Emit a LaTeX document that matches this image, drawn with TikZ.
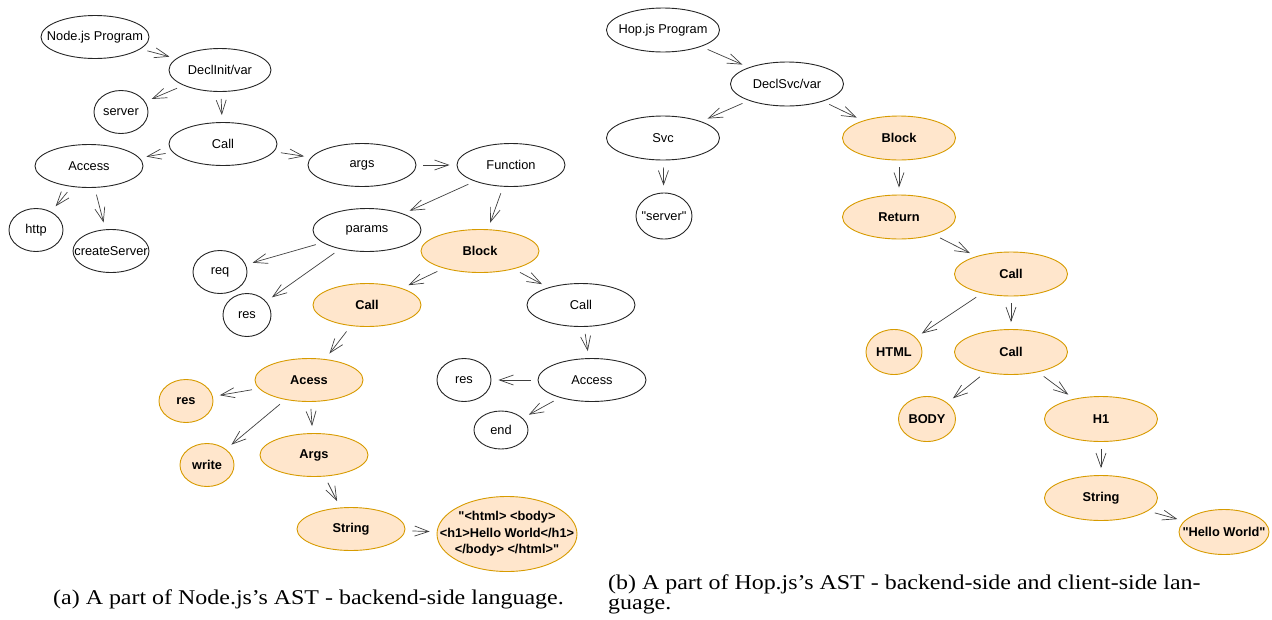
\documentclass[tikz,border=0pt]{standalone}
\usepackage{graphicx}
\usepackage{fontspec}
\setmainfont{Liberation Serif}
\newfontfamily\nodefont{Liberation Sans}
\usetikzlibrary{shapes.geometric, arrows.meta}
\definecolor{hlfill}{HTML}{FFE6CC}
\definecolor{hldraw}{HTML}{D79B00}

\begin{document}
\begin{tikzpicture}[
  x=1pt, y=-1pt,
  font=\nodefont\fontsize{12.8}{16.5}\selectfont,
  astnode/.style={
    ellipse, draw=black!85, line width=0.9pt, inner xsep=-20pt, inner ysep=0pt,
    minimum width=108pt, minimum height=43pt, align=center
  },
  small/.style={minimum width=54pt},
  hl/.style={
    astnode, draw=hldraw, fill=hlfill,
    font=\nodefont\bfseries\fontsize{12.8}{16.5}\selectfont
  },
  edge/.style={-{Straight Barb[length=14pt, width=10pt]}, line width=0.7pt,
    color=black!75, shorten <=7pt, shorten >=7pt},
  caption/.style={font=\fontsize{21}{24}\selectfont, inner sep=0pt, anchor=base west}
]
\useasboundingbox (0,0) rectangle (1272,619);

% Node.js tree
\node[astnode] (nprog) at (95,37) {Node.js Program};
\node[astnode, minimum width=102pt] (ndecl) at (220,70) {DeclInit/var};
\node[astnode, small] (nserver) at (121,112) {server};
\node[astnode] (ncall) at (223,144) {Call};
\node[astnode] (naccess) at (89,166) {Access};
\node[astnode, small] (nhttp) at (36,230) {http};
\node[astnode, minimum width=76pt] (ncreate) at (111,251) {createServer};
\node[astnode] (nargs) at (362,165) {args};
\node[astnode] (nfunc) at (511,165) {Function};
\node[astnode] (nparams) at (367,230) {params};
\node[hl, minimum width=118pt] (nblock) at (480,251) {Block};
\node[astnode, small] (nreq) at (220,272) {req};
\node[astnode, minimum width=48pt] (nres) at (247,315) {res};
\node[hl] (ncallb) at (367,305) {Call};
\node[astnode] (ncallw) at (581,305) {Call};
\node[hl] (nacess) at (309,380) {Acess};
\node[hl, small] (nresb) at (186,401) {res};
\node[astnode] (naccw) at (592,380) {Access};
\node[astnode, small] (nresw) at (464,380) {res};
\node[astnode, small, minimum height=38pt] (nend) at (501,430) {end};
\node[hl, small] (nwrite) at (207,465) {write};
\node[hl] (nargsb) at (314,455) {Args};
\node[hl] (nstring) at (351,529) {String};
\node[hl, minimum width=140pt, minimum height=75pt] (nhtml) at (507,534)
  {"<html> <body>\\<h1>Hello World</h1>\\</body> </html>"};

% Node.js edges
\draw[edge] (nprog) -- (ndecl);
\draw[edge] (ndecl) -- (nserver);
\draw[edge] (ndecl) -- (ncall);
\draw[edge] (ncall) -- (naccess);
\draw[edge] (ncall) -- (nargs);
\draw[edge] (naccess) -- (nhttp);
\draw[edge] (naccess) -- (ncreate);
\draw[edge] (nargs) -- (nfunc);
\draw[edge] (nfunc) -- (nparams);
\draw[edge] (nfunc) -- (nblock);
\draw[edge] (nparams) -- (nreq);
\draw[edge] (nparams) -- (nres);
\draw[edge] (nblock) -- (ncallb);
\draw[edge] (nblock) -- (ncallw);
\draw[edge] (ncallb) -- (nacess);
\draw[edge] (ncallw) -- (naccw);
\draw[edge] (nacess) -- (nresb);
\draw[edge] (nacess) -- (nwrite);
\draw[edge] (nacess) -- (nargsb);
\draw[edge] (naccw) -- (nresw);
\draw[edge] (naccw) -- (nend);
\draw[edge] (nargsb) -- (nstring);
\draw[edge] (nstring) -- (nhtml);

% Hop.js tree
\node[astnode, minimum width=113pt, minimum height=44pt] (hprog) at (663,30) {Hop.js Program};
\node[astnode, minimum width=113pt, minimum height=44pt] (hdecl) at (787,84) {DeclSvc/var};
\node[astnode, minimum width=113pt, minimum height=44pt] (hsvc) at (663,138) {Svc};
\node[astnode, minimum width=56pt, minimum height=46pt] (hserver) at (664,216) {"server"};
\node[hl, minimum width=113pt, minimum height=44pt] (hblock) at (899,138) {Block};
\node[hl, minimum width=113pt, minimum height=44pt] (hreturn) at (899,217) {Return};
\node[hl, minimum width=113pt, minimum height=44pt] (hcall) at (1011,274) {Call};
\node[hl, minimum width=56pt, minimum height=45pt] (hhtml) at (894,352) {HTML};
\node[hl, minimum width=113pt, minimum height=45pt] (hcallb) at (1011,352) {Call};
\node[hl, minimum width=57pt, minimum height=45pt] (hbody) at (927,419) {BODY};
\node[hl, minimum width=113pt, minimum height=45pt] (hhone) at (1101,419) {H1};
\node[hl, minimum width=113pt, minimum height=45pt] (hstring) at (1101,498) {String};
\node[hl, minimum width=90pt, minimum height=45pt] (hhello) at (1224,532) {"Hello World"};

% Hop.js edges
\draw[edge] (hprog) -- (hdecl);
\draw[edge] (hdecl) -- (hsvc);
\draw[edge] (hdecl) -- (hblock);
\draw[edge] (hsvc) -- (hserver);
\draw[edge] (hblock) -- (hreturn);
\draw[edge] (hreturn) -- (hcall);
\draw[edge] (hcall) -- (hhtml);
\draw[edge] (hcall) -- (hcallb);
\draw[edge] (hcallb) -- (hbody);
\draw[edge] (hcallb) -- (hhone);
\draw[edge] (hhone) -- (hstring);
\draw[edge] (hstring) -- (hhello);

% Captions
\node[caption] (capa) at (53,604)
  {\scalebox{1.14}[1]{(a) A part of Node.js's AST - backend-side language.}};
\node[caption] (capb) at (608,589)
  {\scalebox{1.14}[1]{(b) A part of Hop.js's AST - backend-side and client-side lan-}};
\node[caption] (capbb) at (608,609) {\scalebox{1.14}[1]{guage.}};

\end{tikzpicture}
\end{document}
